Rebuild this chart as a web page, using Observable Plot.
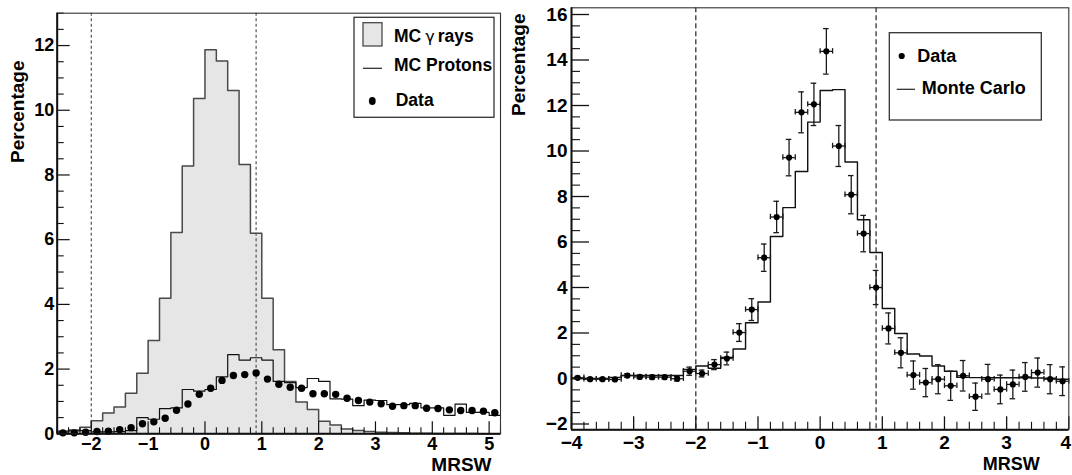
<!DOCTYPE html>
<html><head><meta charset="utf-8">
<script src="https://cdn.jsdelivr.net/npm/d3@7"></script>
<script src="https://cdn.jsdelivr.net/npm/@observablehq/plot@0.6"></script>
<style>
html,body{margin:0;padding:0;background:#fff;}
#wrap{position:relative;width:1072px;height:475px;overflow:hidden;}
#wrap svg{position:absolute;top:0;}
</style></head><body><div id="wrap"></div>
<script>
// ---------- data ----------
const binWidth = 0.2;
const leftBinStart = -2.6;
const gammaValues = [0.05,0.12,0.2,0.4,0.64,0.83,1.25,1.87,2.88,4.19,6.22,8.28,10.36,11.87,11.52,10.61,8.32,6.2,4.19,2.6,1.62,0.98,0.75,0.39,0.27,0.15,0.1,0.07,0.05,0.04,0.03,0.02,0.02,0.01,0.01,0.01,0.01,0,0];
const protonValues = [0.08,0.09,0.1,0.06,0.06,0.07,0.1,0.5,0.45,0.78,0.8,1.37,1.32,1.37,1.76,2.45,2.28,2.35,2.28,1.62,1.58,1.43,1.71,1.62,1.08,1.07,0.87,1.04,1.03,0.9,0.9,0.94,0.8,0.8,0.57,0.92,0.66,0.66,0.57];
const leftDataValues = [0.03,0.03,0.05,0.07,0.08,0.13,0.19,0.31,0.37,0.48,0.73,0.92,1.22,1.41,1.65,1.8,1.83,1.88,1.69,1.53,1.44,1.41,1.24,1.24,1.22,1.1,1.03,0.98,0.93,0.85,0.87,0.87,0.79,0.78,0.74,0.72,0.72,0.7,0.65];

const rightBinStart = -4;
const mcValues = [0,0,0,0.05,0.13,0.13,0.13,0.13,0.13,0.4,0.55,0.45,0.93,1.3,2.45,3.36,6.24,7.51,9.1,11.27,12.66,12.7,9.52,6.98,5.54,3.08,1.98,1.08,0.99,0.55,0.32,0.05,0.04,0.04,0.03,0.03,0.03,0.02,0.01,-0.03];
const rightDataValues = [0.03,-0.03,-0.03,-0.04,0.13,0.07,0.06,0.06,-0.01,0.32,0.22,0.61,0.88,2.02,3.03,5.31,7.1,9.71,11.7,12.05,14.38,10.22,8.08,6.37,4.0,2.2,1.13,0.15,-0.18,-0.03,-0.32,0.12,-0.8,-0.03,-0.48,-0.26,0.07,0.26,-0.03,-0.12];
const rightDataErrors = [0.06,0.06,0.06,0.06,0.08,0.08,0.08,0.08,0.1,0.18,0.15,0.22,0.28,0.39,0.48,0.6,0.69,0.8,0.9,0.93,1.0,0.9,0.84,0.8,0.75,0.68,0.66,0.62,0.62,0.64,0.64,0.67,0.6,0.65,0.63,0.63,0.63,0.64,0.64,0.63];

const cutLines = [-2, 0.9];
const leftXTicks = [-2,-1,0,1,2,3,4,5];
const leftYTicks = [0,2,4,6,8,10,12];
const rightXTicks = [-4,-3,-2,-1,0,1,2,3,4];
const rightYTicks = [-2,0,2,4,6,8,10,12,14,16];
const leftXDomain = [-2.6, 5.2], leftYDomain = [0, 13];
const rightXDomain = [-4, 4], rightYDomain = [-2.255, 16.295];
const xTitle = "MRSW", yTitle = "Percentage";
const leftLegend = ["MC", "γ", "rays", "MC Protons", "Data"];
const rightLegend = ["Data", "Monte Carlo"];

// ---------- helpers ----------
function steps(start, vals) {
  const pts = [];
  vals.forEach((v, i) => { pts.push({x: start + i*binWidth, y: v}); pts.push({x: start + (i+1)*binWidth, y: v}); });
  return pts;
}
function centers(start, vals, errs) {
  return vals.map((v, i) => ({x: start + (i + 0.5)*binWidth, y: v, e: errs ? errs[i] : 0}));
}
const FONT = '"Liberation Sans", Arial, Helvetica, sans-serif';
const fmt = d3.format("d");

// ---------- left panel ----------
const L = {w: 505, h: 475, ml: 56.7, mr: 5, mt: 12.7, mb: 41.7};
const LfW = L.w - L.ml - L.mr, LfH = L.h - L.mt - L.mb;
const leftMinorX = d3.range(0, 40).map(i => +(leftBinStart + i*0.2).toFixed(2)).filter(v => !leftXTicks.includes(v));
const leftMinorY = d3.range(1, 27, 1).map(i => i*0.5).filter(v => !leftYTicks.includes(v));

const left = Plot.plot({
  width: L.w, height: L.h,
  marginLeft: L.ml, marginRight: L.mr, marginTop: L.mt, marginBottom: L.mb,
  x: {domain: leftXDomain, axis: null},
  y: {domain: leftYDomain, axis: null},
  style: {fontFamily: FONT, fontWeight: "bold", fontSize: "18px", background: "transparent", overflow: "visible"},
  marks: [
    Plot.areaY(steps(leftBinStart, gammaValues), {x: "x", y1: 0, y2: "y", fill: "#e6e6e6"}),
    Plot.line(steps(leftBinStart, gammaValues), {x: "x", y: "y", stroke: "#4a4a4a", strokeWidth: 1.5}),
    Plot.line(steps(leftBinStart, protonValues), {x: "x", y: "y", stroke: "#111", strokeWidth: 1.2}),
    Plot.ruleX(cutLines, {x: d => d, stroke: "#555", strokeWidth: 1.2, strokeDasharray: "3,2.5"}),
    Plot.dot(centers(leftBinStart, leftDataValues), {x: "x", y: "y", r: 3.7, fill: "#000"}),
    // ticks (inward)
    Plot.ruleY(leftYTicks, {y: d => d, insetRight: LfW - 13, stroke: "#111", strokeWidth: 1.2}),
    Plot.ruleY(leftMinorY, {y: d => d, insetRight: LfW - 7, stroke: "#111", strokeWidth: 1.1}),
    Plot.ruleX(leftXTicks, {x: d => d, insetTop: LfH - 12, stroke: "#111", strokeWidth: 1.2}),
    Plot.ruleX(leftMinorX, {x: d => d, insetTop: LfH - 6, stroke: "#111", strokeWidth: 1.1}),
    Plot.axisY(leftYTicks, {anchor: "left", tickSize: 0, tickPadding: 3, tickFormat: fmt, label: null, fontSize: 18}),
    Plot.axisX(leftXTicks, {anchor: "bottom", tickSize: 0, tickPadding: 3, tickFormat: fmt, label: null, fontSize: 18}),
    Plot.frame({stroke: "#333", strokeWidth: 1.1}),
    Plot.ruleX([leftXDomain[0]], {stroke: "#111", strokeWidth: 2}),
    Plot.ruleY([leftYDomain[0]], {stroke: "#111", strokeWidth: 2}),
    Plot.text([xTitle], {frameAnchor: "bottom-right", textAnchor: "end", lineAnchor: "bottom", dx: -9, dy: 36.7, fontSize: 19}),
    Plot.text([yTitle], {frameAnchor: "top-left", textAnchor: "end", lineAnchor: "bottom", rotate: -90, dx: -33.7, dy: 47.3, fontSize: 19})
  ]
});
left.style.left = "0px";

// ---------- right panel ----------
const R = {left: 505, w: 567, h: 475, ml: 66, mr: 3.7, mt: 7.3, mb: 45.7};
const RfW = R.w - R.ml - R.mr, RfH = R.h - R.mt - R.mb;
const rightMinorX = d3.range(0, 41).map(i => +(rightBinStart + i*0.2).toFixed(2)).filter(v => !rightXTicks.includes(v));
const rightMinorY = d3.range(-4, 33).map(i => i*0.5).filter(v => !rightYTicks.includes(v));
const rpts = centers(rightBinStart, rightDataValues, rightDataErrors);
const mark = {stroke: "#1a1a1a", strokeWidth: 1.3};
const lastX = rightXTicks[rightXTicks.length - 1];

const right = Plot.plot({
  width: R.w, height: R.h,
  marginLeft: R.ml, marginRight: R.mr, marginTop: R.mt, marginBottom: R.mb,
  x: {domain: rightXDomain, axis: null},
  y: {domain: rightYDomain, axis: null},
  style: {fontFamily: FONT, fontWeight: "bold", fontSize: "19px", background: "transparent", overflow: "visible"},
  marks: [
    Plot.line(steps(rightBinStart, mcValues), {x: "x", y: "y", stroke: "#111", strokeWidth: 1.4}),
    Plot.ruleX(cutLines, {x: d => d, stroke: "#222", strokeWidth: 1.2, strokeDasharray: "5,3"}),
    Plot.ruleX(rpts, {x: "x", y1: d => d.y - d.e, y2: d => d.y + d.e, ...mark}),
    Plot.ruleY(rpts, {y: "y", x1: d => d.x - 0.1, x2: d => d.x + 0.1, ...mark}),
    Plot.ruleY(rpts, {y: d => d.y - d.e, x1: d => d.x - 0.045, x2: d => d.x + 0.045, ...mark}),
    Plot.ruleY(rpts, {y: d => d.y + d.e, x1: d => d.x - 0.045, x2: d => d.x + 0.045, ...mark}),
    Plot.ruleX(rpts, {x: d => d.x - 0.1, y1: d => d.y - 0.12, y2: d => d.y + 0.12, ...mark}),
    Plot.ruleX(rpts, {x: d => d.x + 0.1, y1: d => d.y - 0.12, y2: d => d.y + 0.12, ...mark}),
    Plot.dot(rpts, {x: "x", y: "y", r: 3.1, fill: "#000"}),
    Plot.ruleY(rightYTicks, {y: d => d, insetRight: RfW - 18, stroke: "#111", strokeWidth: 1.3}),
    Plot.ruleY(rightMinorY, {y: d => d, insetRight: RfW - 9, stroke: "#111", strokeWidth: 1.1}),
    Plot.ruleX(rightXTicks, {x: d => d, insetTop: RfH - 13, stroke: "#111", strokeWidth: 1.3}),
    Plot.ruleX(rightMinorX, {x: d => d, insetTop: RfH - 7.5, stroke: "#111", strokeWidth: 1.1}),
    Plot.axisY(rightYTicks, {anchor: "left", tickSize: 0, tickPadding: 4, tickFormat: fmt, label: null, fontSize: 19}),
    Plot.axisX(rightXTicks.filter(t => t !== lastX), {anchor: "bottom", tickSize: 0, tickPadding: 6, tickFormat: fmt, label: null, fontSize: 19}),
    Plot.axisX([lastX], {anchor: "bottom", tickSize: 0, tickPadding: 6, tickFormat: fmt, label: null, fontSize: 19, dx: -3}),
    Plot.frame({stroke: "#333", strokeWidth: 1.1}),
    Plot.ruleX([rightXDomain[0]], {stroke: "#111", strokeWidth: 2}),
    Plot.ruleY([rightYDomain[0]], {stroke: "#111", strokeWidth: 2}),
    Plot.text([xTitle], {frameAnchor: "bottom-right", textAnchor: "end", lineAnchor: "bottom", dx: -29, dy: 39.7, fontSize: 18}),
    Plot.text([yTitle], {frameAnchor: "top-left", textAnchor: "end", lineAnchor: "bottom", rotate: -90, dx: -47, dy: 5.7, fontSize: 19})
  ]
});
right.style.left = R.left + "px";

const wrap = document.getElementById("wrap");
wrap.appendChild(left);
wrap.appendChild(right);

// ---------- legends ----------
const lg = d3.select(left).append("g").attr("font-family", FONT).attr("font-weight", "bold").attr("font-size", 17.5).attr("text-anchor", "start");
lg.append("rect").attr("x", 354).attr("y", 17.3).attr("width", 140).attr("height", 100).attr("fill", "#fff").attr("stroke", "#333").attr("stroke-width", 1.3);
lg.append("rect").attr("x", 363).attr("y", 22.7).attr("width", 19).attr("height", 23.3).attr("fill", "#e6e6e6").attr("stroke", "#4a4a4a").attr("stroke-width", 1.3);
const t1 = lg.append("text").attr("x", 394).attr("y", 41.5).attr("text-anchor", "start");
t1.append("tspan").text(leftLegend[0]);
t1.append("tspan").attr("font-weight", "normal").attr("font-family", '"DejaVu Sans", sans-serif').attr("font-size", 16).attr("dx", 4).text(leftLegend[1]);
t1.append("tspan").attr("dx", 3).text(leftLegend[2]);
lg.append("line").attr("x1", 363).attr("x2", 382).attr("y1", 68.3).attr("y2", 68.3).attr("stroke", "#222").attr("stroke-width", 1.2);
lg.append("text").attr("x", 394).attr("y", 70.5).attr("text-anchor", "start").text(leftLegend[3]);
lg.append("ellipse").attr("cx", 372.3).attr("cy", 101).attr("rx", 3.4).attr("ry", 3.9).attr("fill", "#000");
lg.append("text").attr("x", 395.7).attr("y", 106.3).attr("text-anchor", "start").text(leftLegend[4]);

const rg = d3.select(right).append("g").attr("font-family", FONT).attr("font-weight", "bold").attr("font-size", 18).attr("text-anchor", "start").attr("transform", `translate(${-R.left},0)`);
rg.append("rect").attr("x", 889.3).attr("y", 32.7).attr("width", 152).attr("height", 87.3).attr("fill", "#fff").attr("stroke", "#333").attr("stroke-width", 1.3);
rg.append("circle").attr("cx", 901.7).attr("cy", 56).attr("r", 3.1).attr("fill", "#000");
rg.append("text").attr("x", 917.3).attr("y", 61.7).attr("text-anchor", "start").text(rightLegend[0]);
rg.append("line").attr("x1", 896.7).attr("x2", 915).attr("y1", 89.3).attr("y2", 89.3).attr("stroke", "#222").attr("stroke-width", 1.2);
rg.append("text").attr("x", 921.7).attr("y", 94).attr("text-anchor", "start").text(rightLegend[1]);
</script></body></html>
